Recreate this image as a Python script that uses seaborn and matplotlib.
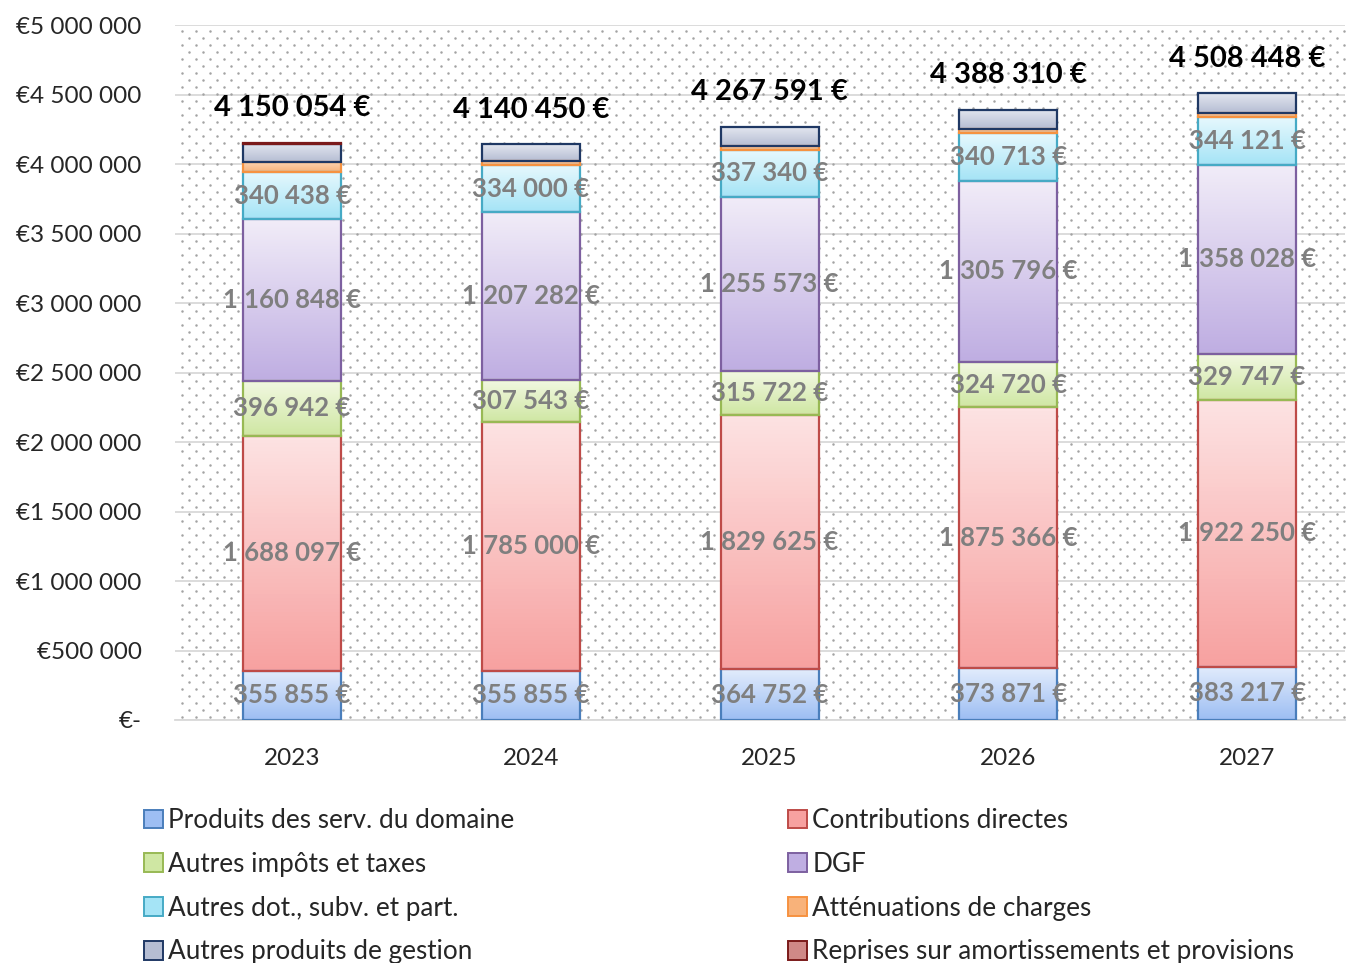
import numpy as np
import matplotlib
matplotlib.use("Agg")
import matplotlib.pyplot as plt
import seaborn as sns
from matplotlib.colors import LinearSegmentedColormap
from matplotlib.patches import Patch
from matplotlib.ticker import FuncFormatter, MultipleLocator

# données (en euros)
annees = ["2023", "2024", "2025", "2026", "2027"]
produits_domaine = [355855, 355855, 364752, 373871, 383217]
contributions_directes = [1688097, 1785000, 1829625, 1875366, 1922250]
autres_impots = [396942, 307543, 315722, 324720, 329747]
dgf = [1160848, 1207282, 1255573, 1305796, 1358028]
autres_dotations = [340438, 334000, 337340, 340713, 344121]
attenuations = [70000, 35000, 30000, 31000, 32000]
autres_gestion = [130000, 115770, 134579, 136844, 139085]
reprises = [7874, 0, 0, 0, 0]
totaux = [4150054, 4140450, 4267591, 4388310, 4508448]

# (nom, valeurs, couleur haut, couleur bas, bord, étiquette ?)
series = [
    ("Produits des serv. du domaine", produits_domaine, "#e2ecfc", "#9dbef3", "#4a7ebb", True),
    ("Contributions directes", contributions_directes, "#fde3e3", "#f7a1a0", "#be4b48", True),
    ("Autres impôts et taxes", autres_impots, "#f2f8e2", "#cfe7a3", "#98b954", True),
    ("DGF", dgf, "#f1ecf8", "#bfaee2", "#7d60a0", True),
    ("Autres dot., subv. et part.", autres_dotations, "#e6f8fd", "#a5e4f6", "#46aac5", True),
    ("Atténuations de charges", attenuations, "#fcd3b0", "#f8b27a", "#f69240", False),
    ("Autres produits de gestion", autres_gestion, "#e3e6ef", "#b5bdd3", "#1f3864", False),
    ("Reprises sur amortissements et provisions", reprises, "#e8b9b8", "#d08987", "#7b1a1a", False),
]

sns.set_style("white")
plt.rcParams["font.family"] = ["Lato", "DejaVu Sans"]

W, H = 1346, 963
fig = plt.figure(figsize=(W / 100, H / 100), dpi=100)
ax = fig.add_axes([175 / W, 1 - 720 / H, 1170 / W, 695 / H])

# fond pointillé (petits points décalés), sous les barres
gx, gy = np.meshgrid(np.arange(182, 1345, 14), np.arange(31, 720, 14))
for dx, dy in [(0, 0), (7, 7)]:
    px = (gx + dx).ravel()
    py = (gy + dy).ravel()
    keep = (px < 1345) & (py < 718)
    ax.plot(px[keep] / W, 1 - py[keep] / H, transform=fig.transFigure, ls="none",
            marker="o", ms=1.8, mew=0, color="#a3a3a3", zorder=0.6, clip_on=False)

largeur = 0.41
bas = np.zeros(len(annees))
for nom, vals, haut_c, bas_c, bord, etiq in series:
    vals = np.array(vals, dtype=float)
    n_avant = len(ax.patches)
    sns.barplot(x=annees, y=vals, bottom=bas, color=bas_c, width=largeur,
                edgecolor=bord, linewidth=1.6, errorbar=None, ax=ax)
    cmap = LinearSegmentedColormap.from_list(nom, [bas_c, haut_c])
    for p in ax.patches[n_avant:]:
        if p.get_height() <= 0:
            p.set_visible(False)
            continue
        x0, y0 = p.get_x(), p.get_y()
        im = ax.imshow(np.linspace(0, 1, 64).reshape(-1, 1), cmap=cmap, origin="lower",
                       extent=[x0, x0 + p.get_width(), y0, y0 + p.get_height()],
                       aspect="auto", zorder=2)
        im.set_clip_path(p)
        p.set_facecolor("none")
        p.set_zorder(3)
    if etiq:
        for i, v in enumerate(vals):
            ax.text(i, bas[i] + v / 2, f"{v:,.0f} €".replace(",", " "), ha="center", va="center",
                    fontsize=18.5, fontweight="bold", color="#7f7f7f", zorder=5)
    bas += vals

for i, t in enumerate(totaux):
    ax.text(i, t + 250000, f"{t:,.0f} €".replace(",", " "), ha="center", va="center",
            fontsize=21, fontweight="bold", color="black", zorder=5)

ax.set_facecolor("none")
ax.set_xlim(-0.49, 4.41)
ax.set_ylim(0, 5000000)
ax.yaxis.set_major_locator(MultipleLocator(500000))
ax.yaxis.set_major_formatter(FuncFormatter(
    lambda v, _: "€-" if v == 0 else f"€{v:,.0f}".replace(",", " ")))
ax.grid(axis="y", color="#d9d9d9", lw=1.3)
ax.set_axisbelow(True)
for s in ["left", "right", "top"]:
    ax.spines[s].set_visible(False)
ax.spines["bottom"].set_color("#d9d9d9")
ax.spines["bottom"].set_linewidth(1.3)
ax.tick_params(axis="y", length=0, pad=24, labelsize=17.5)
ax.tick_params(axis="x", length=0, pad=20, labelsize=17.5)
ax.set_xlabel("")
ax.set_ylabel("")

# légende sur deux colonnes
ordre = [0, 2, 4, 6, 1, 3, 5, 7]
handles = [Patch(facecolor=series[k][3], edgecolor=series[k][4], lw=1.4) for k in ordre]
labels = [series[k][0] for k in ordre]
fig.legend(handles, labels, loc="upper left", bbox_to_anchor=(144 / W, 1 - 808 / H),
           ncol=2, frameon=False, fontsize=18.8, handlelength=0.72, handleheight=0.72,
           handletextpad=0.2, labelspacing=0.72, columnspacing=10.5, borderaxespad=0,
           borderpad=0)

fig.savefig("out.png", dpi=100)
